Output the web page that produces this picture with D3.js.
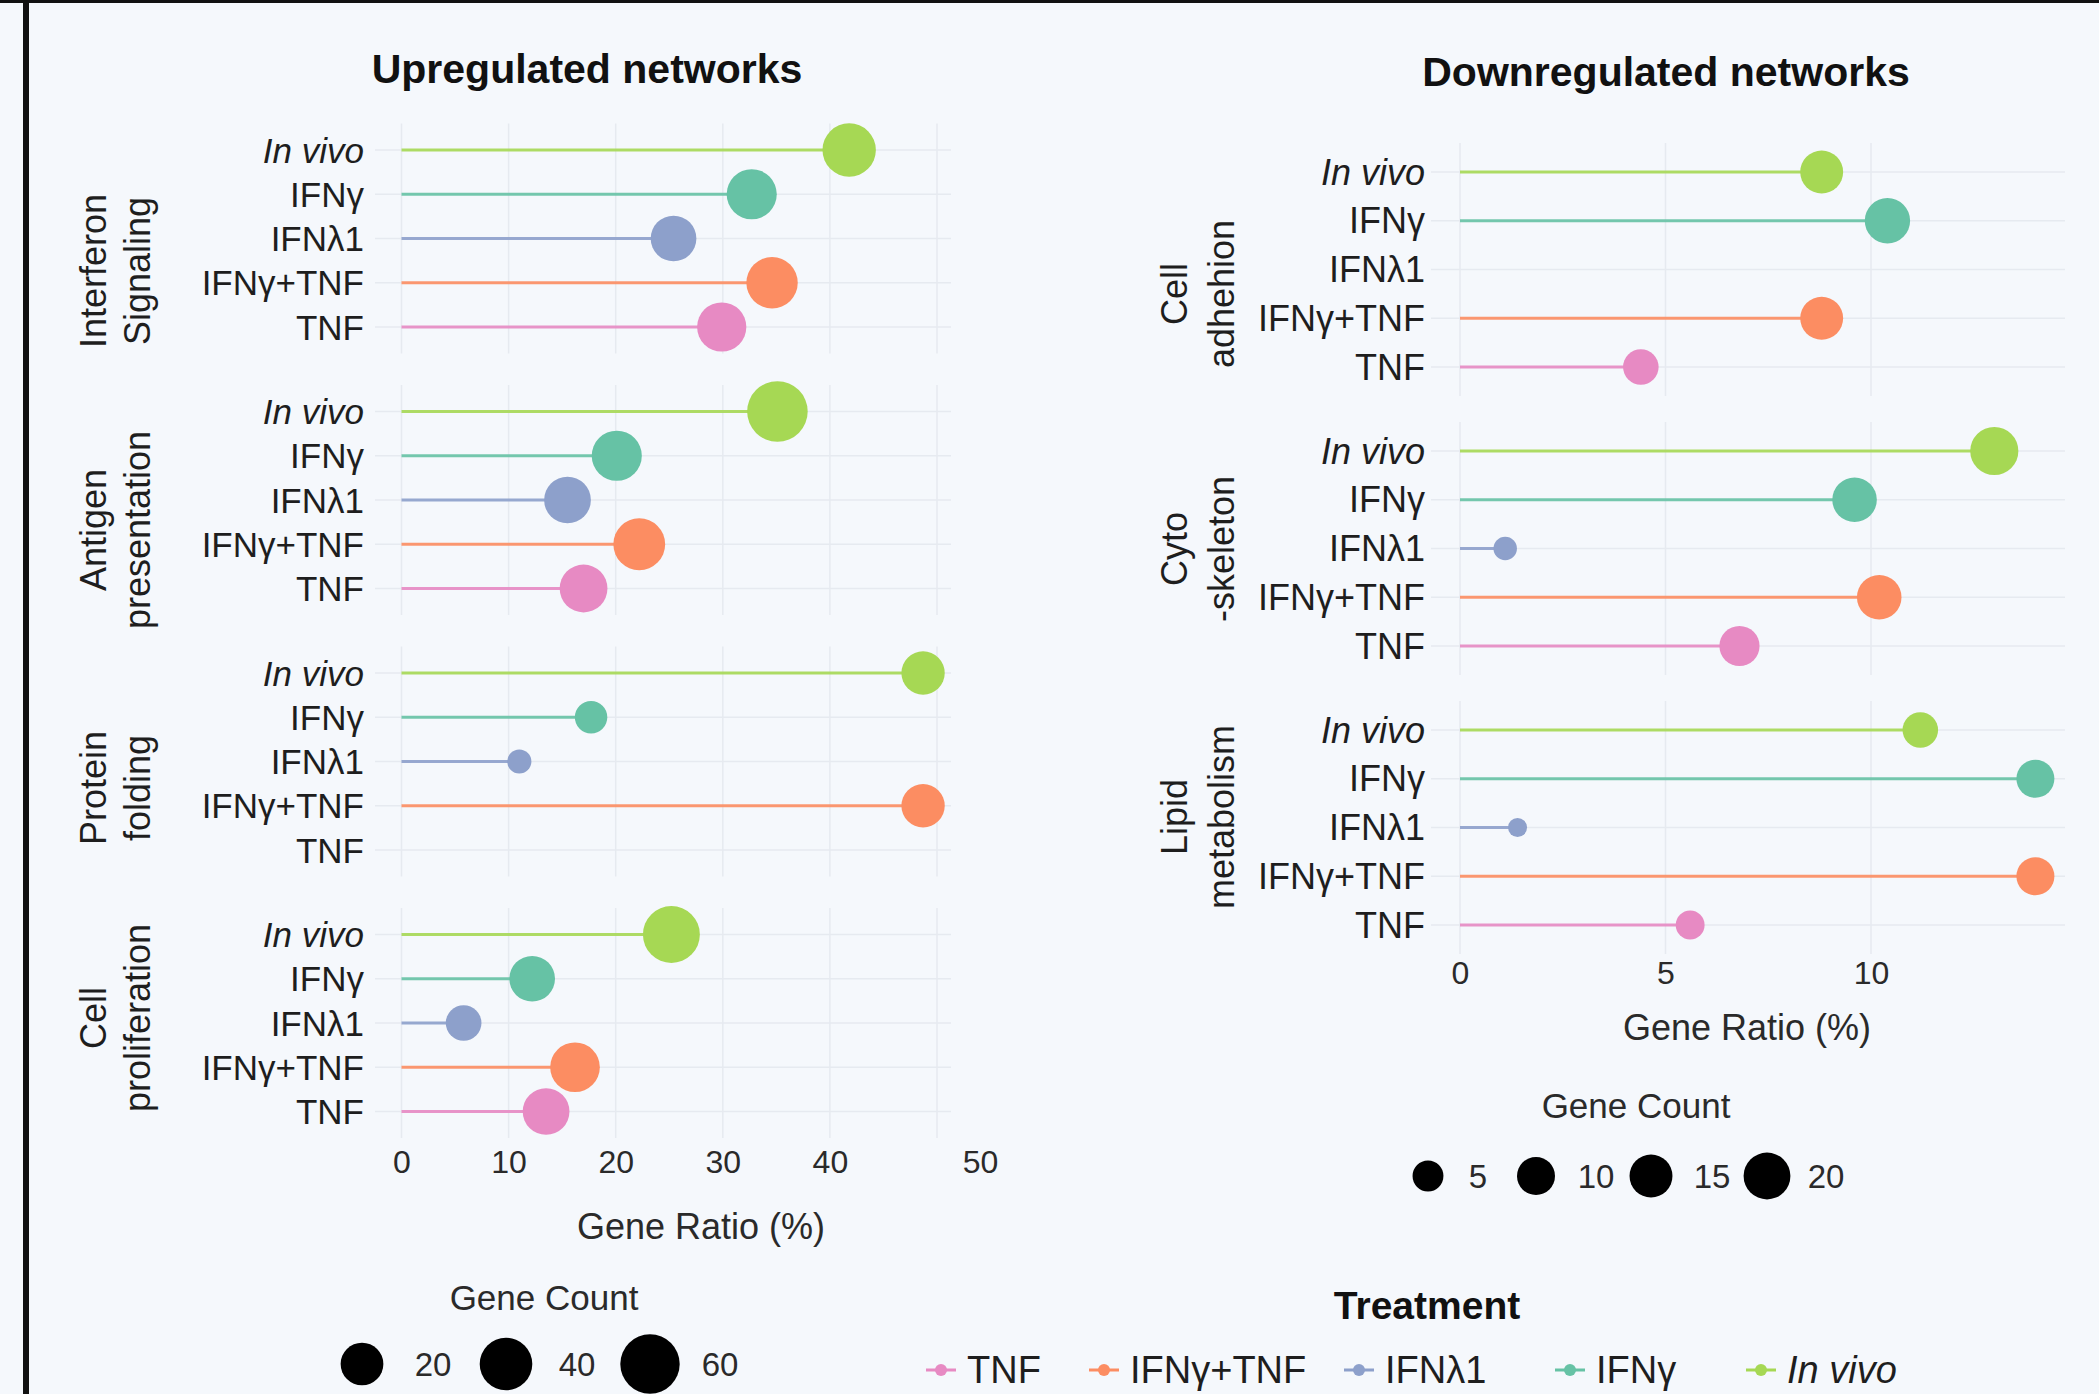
<!DOCTYPE html>
<html><head><meta charset="utf-8">
<script src="https://cdn.jsdelivr.net/npm/d3@7"></script>
<style>
body{margin:0;background:#f5f8fc;}
svg{display:block;font-family:"Liberation Sans",Arial,Helvetica,sans-serif;}
</style>
</head><body>
<svg id="c" width="2099" height="1394"></svg>
<script>
// ---------------- DATA ----------------
const treatments = ["In vivo", "IFNγ", "IFNλ1", "IFNγ+TNF", "TNF"];
const legendOrder = ["TNF", "IFNγ+TNF", "IFNλ1", "IFNγ", "In vivo"];
const treatmentColors = ["#a6d854", "#66c2a5", "#8da0cb", "#fc8d62", "#e78ac3"];

const upNetworks = [["Interferon", "Signaling"], ["Antigen", "presentation"], ["Protein", "folding"], ["Cell", "proliferation"]];
const upRatio = [
  [41.8, 32.7, 25.4, 34.6, 29.9],
  [35.1, 20.1, 15.5, 22.2, 17.0],
  [48.7, 17.7, 11.0, 48.7, null],
  [25.2, 12.2, 5.8, 16.2, 13.5]
];
const upCount = [
  [42, 34, 25, 37, 32],
  [64, 34, 27, 38, 29],
  [21, 8, 3, 21, null],
  [52, 25, 11, 33, 27]
];

const downNetworks = [["Cell", "adhehion"], ["Cyto", "-skeleton"], ["Lipid", "metabolism"]];
const downRatio = [
  [8.8, 10.4, null, 8.8, 4.4],
  [13.0, 9.6, 1.1, 10.2, 6.8],
  [11.2, 14.0, 1.4, 14.0, 5.6]
];
const downCount = [
  [15, 18, null, 15, 8],
  [22, 17, 2, 17, 12],
  [8, 10, 1, 10, 4]
];

const upTicks = [0, 10, 20, 30, 40, 50];
const downTicks = [0, 5, 10];
const upSizeLegend = [20, 40, 60];
const downSizeLegend = [5, 10, 15, 20];

const upTitle = "Upregulated networks";
const downTitle = "Downregulated networks";
const xTitle = "Gene Ratio (%)";
const sizeTitle = "Gene Count";
const colorTitle = "Treatment";

// ---------------- DRAW ----------------
const W = 2099, H = 1394;
const svg = d3.select("#c");
const color = d3.scaleOrdinal().domain(treatments).range(treatmentColors);
const bg = "#f5f8fc", grid = "#e6eaf0", ink = "#1e1e1e";

svg.append("rect").attr("width", W).attr("height", H).attr("fill", bg);
svg.append("rect").attr("x", 0).attr("y", 0).attr("width", W).attr("height", 3).attr("fill", "#111");
svg.append("rect").attr("x", 23).attr("y", 0).attr("width", 6).attr("height", H).attr("fill", "#111");

function drawSide(o) {
  const g = svg.append("g");
  o.networks.forEach((net, i) => {
    const top = o.rowTop + i * o.pitch;
    const y = d3.scalePoint().domain(treatments).range([top, top + o.span]);
    const pg = g.append("g");
    pg.selectAll("line.vg").data(o.ticks).join("line")
      .attr("x1", d => o.x(d)).attr("x2", d => o.x(d))
      .attr("y1", y(treatments[0]) - o.gridPad).attr("y2", y(treatments[4]) + o.gridPad)
      .attr("stroke", grid).attr("stroke-width", 1.5);
    pg.selectAll("line.hg").data(treatments).join("line")
      .attr("x1", o.gridX[0]).attr("x2", o.gridX[1])
      .attr("y1", d => y(d)).attr("y2", d => y(d))
      .attr("stroke", grid).attr("stroke-width", 1.5);
    pg.selectAll("text.cat").data(treatments).join("text")
      .attr("x", o.labelRight).attr("y", d => y(d))
      .attr("text-anchor", "end").attr("dominant-baseline", "central")
      .attr("font-size", o.catFont).attr("fill", ink)
      .attr("font-style", d => d === "In vivo" ? "italic" : "normal")
      .text(d => d);
    const rows = treatments.map((t, j) => ({t, v: o.ratio[i][j], c: o.count[i][j]})).filter(d => d.v != null);
    pg.selectAll("line.stem").data(rows).join("line")
      .attr("x1", o.x(0)).attr("x2", d => o.x(d.v))
      .attr("y1", d => y(d.t)).attr("y2", d => y(d.t))
      .attr("stroke", d => color(d.t)).attr("stroke-width", 3).attr("stroke-opacity", 0.9);
    pg.selectAll("circle").data(rows).join("circle")
      .attr("cx", d => o.x(d.v)).attr("cy", d => y(d.t))
      .attr("r", d => o.size(d.c)).attr("fill", d => color(d.t));
    net.forEach((line, k) => {
      pg.append("text")
        .attr("transform", `translate(${o.groupBase[k]},${o.groupCenter[i]}) rotate(-90)`)
        .attr("text-anchor", "middle").attr("font-size", o.groupFont).attr("fill", ink)
        .text(line);
    });
  });
  const ax = g.append("g").attr("transform", `translate(0,${o.tickY - 11.5})`)
    .call(d3.axisBottom(o.x).tickValues(o.ticks).tickSize(0).tickPadding(0).tickFormat(d3.format("d")));
  ax.select(".domain").remove();
  ax.selectAll("text").attr("font-size", 32).attr("fill", "#2a2a2a")
    .attr("font-family", "Liberation Sans, Arial, sans-serif");
  if (o.lastTickShift) {
    ax.selectAll(".tick").filter(d => d === o.ticks[o.ticks.length - 1]).select("text").attr("dx", o.lastTickShift);
  }
  g.append("text").attr("x", o.xTitlePos[0]).attr("y", o.xTitlePos[1])
    .attr("text-anchor", "middle").attr("dominant-baseline", "central")
    .attr("font-size", 36).attr("fill", "#2a2a2a").text(xTitle);
  g.append("text").attr("x", o.titlePos[0]).attr("y", o.titlePos[1])
    .attr("text-anchor", "middle").attr("font-size", 41).attr("font-weight", "bold")
    .attr("fill", "#111").text(o.title);
  g.append("text").attr("x", o.sizeTitlePos[0]).attr("y", o.sizeTitlePos[1])
    .attr("text-anchor", "middle").attr("dominant-baseline", "central")
    .attr("font-size", 35).attr("fill", "#2a2a2a").text(sizeTitle);
  const lg = g.append("g");
  lg.selectAll("circle").data(o.sizeLegend).join("circle")
    .attr("cx", (d, k) => o.sizeLegendX[k]).attr("cy", o.sizeLegendY)
    .attr("r", d => o.size(d)).attr("fill", "#000");
  lg.selectAll("text").data(o.sizeLegend).join("text")
    .attr("x", (d, k) => o.sizeLegendLabelX[k]).attr("y", o.sizeLegendY)
    .attr("text-anchor", "middle").attr("dominant-baseline", "central")
    .attr("font-size", 33).attr("fill", "#2a2a2a").text(d => d);
}

drawSide({
  networks: upNetworks, ratio: upRatio, count: upCount,
  x: d3.scaleLinear().domain([0, 50]).range([401.5, 937]),
  size: d3.scalePow().exponent(0.3).domain([0, 60]).range([0, 29.7]),
  ticks: upTicks, rowTop: 150, pitch: 261.5, span: 177, gridPad: 26.5,
  gridX: [375, 951], labelRight: 364, catFont: 35, groupFont: 36,
  groupBase: [106, 150], groupCenter: [271, 530, 788, 1018],
  tickY: 1162, lastTickShift: 43, xTitlePos: [701, 1226], titlePos: [587, 83], title: upTitle,
  sizeTitlePos: [544, 1297], sizeLegend: upSizeLegend, sizeLegendX: [362, 506, 650],
  sizeLegendLabelX: [433, 577, 720], sizeLegendY: 1364
});

drawSide({
  networks: downNetworks, ratio: downRatio, count: downCount,
  x: d3.scaleLinear().domain([0, 10]).range([1460, 1871]),
  size: d3.scalePow().exponent(0.3).domain([0, 20]).range([0, 23.4]),
  ticks: downTicks, rowTop: 172, pitch: 279, span: 195, gridPad: 29,
  gridX: [1431, 2065], labelRight: 1425, catFont: 36, groupFont: 36,
  groupBase: [1187, 1234], groupCenter: [294, 549, 817],
  tickY: 973, lastTickShift: 0, xTitlePos: [1747, 1027], titlePos: [1666, 86], title: downTitle,
  sizeTitlePos: [1636, 1105], sizeLegend: downSizeLegend, sizeLegendX: [1428, 1536, 1651, 1767],
  sizeLegendLabelX: [1478, 1596, 1712, 1826], sizeLegendY: 1176
});

// treatment legend
svg.append("text").attr("x", 1427).attr("y", 1305).attr("text-anchor", "middle")
  .attr("dominant-baseline", "central").attr("font-size", 39).attr("font-weight", "bold")
  .attr("fill", "#111").text(colorTitle);
const legendX = [941, 1104, 1359, 1570, 1761];
const tl = svg.append("g").selectAll("g").data(legendOrder).join("g")
  .attr("transform", (d, k) => `translate(${legendX[k]},1370)`);
tl.append("line").attr("x1", -15).attr("x2", 15).attr("stroke", d => color(d)).attr("stroke-width", 3);
tl.append("circle").attr("r", 6).attr("fill", d => color(d));
tl.append("text").attr("x", 26).attr("dominant-baseline", "central").attr("font-size", 38)
  .attr("fill", ink).attr("font-style", d => d === "In vivo" ? "italic" : "normal").text(d => d);
</script>
</body></html>
